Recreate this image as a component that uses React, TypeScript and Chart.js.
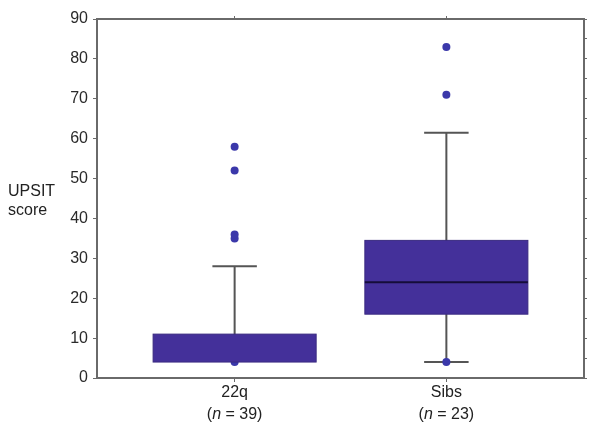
import React, { useEffect, useRef } from "react";
import { Chart, registerables } from "chart.js";

Chart.register(...registerables);

const categories = ["22q", "Sibs"];
const sampleSizes = ["39", "23"];
const whiskerLow = [4, 4];
const boxLow = [4, 16];
const medians = [4, 24];
const boxHigh = [11, 34.5];
const whiskerHigh = [28, 61.5];
const outliers = [
  [4, 35, 36, 52, 58],
  [4, 71, 83],
];
const yTicks = [0, 10, 20, 30, 40, 50, 60, 70, 80, 90];

const BOX_HALF = 0.385;
const CAP_HALF = 0.105;
const BOX_COLOR = "#44309a";
const DOT_COLOR = "#3b38aa";
const AXIS_COLOR = "#6a6a6a";
const FONT = "Liberation Sans, Arial, sans-serif";
const FS = 16;

export default function App() {
  const ref = useRef<HTMLCanvasElement | null>(null);

  useEffect(() => {
    const canvas = ref.current;
    if (!canvas) return;

    const points: { x: number; y: number }[] = [];
    outliers.forEach((arr, i) => arr.forEach((v) => points.push({ x: i, y: v })));

    const whiskerPlugin = {
      id: "whiskers",
      beforeDatasetsDraw(chart: any) {
        const { ctx, scales } = chart;
        const xs = scales.x;
        const ys = scales.y;
        ctx.save();
        ctx.strokeStyle = "#555555";
        ctx.lineWidth = 2;
        categories.forEach((_, i) => {
          const cx = xs.getPixelForValue(i);
          const lo = ys.getPixelForValue(whiskerLow[i]);
          const hi = ys.getPixelForValue(whiskerHigh[i]);
          const capL = xs.getPixelForValue(i - CAP_HALF);
          const capR = xs.getPixelForValue(i + CAP_HALF);
          ctx.beginPath();
          ctx.moveTo(cx, lo);
          ctx.lineTo(cx, hi);
          ctx.moveTo(capL, hi);
          ctx.lineTo(capR, hi);
          if (whiskerLow[i] < boxLow[i]) {
            ctx.moveTo(capL, lo);
            ctx.lineTo(capR, lo);
          }
          ctx.stroke();
        });
        ctx.restore();
      },
      afterDatasetsDraw(chart: any) {
        const { ctx, scales } = chart;
        const xs = scales.x;
        const ys = scales.y;
        ctx.save();
        categories.forEach((_, i) => {
          const l = xs.getPixelForValue(i - BOX_HALF);
          const r = xs.getPixelForValue(i + BOX_HALF);
          const t = ys.getPixelForValue(boxHigh[i]);
          const b = ys.getPixelForValue(boxLow[i]);
          ctx.fillStyle = BOX_COLOR;
          ctx.fillRect(l, t, r - l, b - t);
          ctx.strokeStyle = "#3a2a80";
          ctx.lineWidth = 1;
          ctx.strokeRect(l, t, r - l, b - t);
          if (medians[i] > boxLow[i] && medians[i] < boxHigh[i]) {
            const m = ys.getPixelForValue(medians[i]);
            ctx.strokeStyle = "#150d3a";
            ctx.lineWidth = 2;
            ctx.beginPath();
            ctx.moveTo(l, m);
            ctx.lineTo(r, m);
            ctx.stroke();
          }
        });
        ctx.restore();
      },
      afterDraw(chart: any) {
        const { ctx, scales } = chart;
        const xs = scales.x;
        ctx.save();
        ctx.fillStyle = "#222222";
        ctx.textBaseline = "middle";
        ctx.textAlign = "left";
        ctx.font = `${FS}px ${FONT}`;
        ctx.fillText("UPSIT", 8, 192);
        ctx.fillText("score", 8, 211);
        categories.forEach((c, i) => {
          const cx = xs.getPixelForValue(i);
          ctx.font = `${FS}px ${FONT}`;
          ctx.textAlign = "center";
          ctx.fillText(c, cx, 393);
          const p1 = "(";
          const p2 = "n";
          const p3 = " = " + sampleSizes[i] + ")";
          ctx.font = `${FS}px ${FONT}`;
          const w1 = ctx.measureText(p1).width;
          const w3 = ctx.measureText(p3).width;
          ctx.font = `italic ${FS}px ${FONT}`;
          const w2 = ctx.measureText(p2).width;
          const total = w1 + w2 + w3;
          let x = cx - total / 2;
          ctx.textAlign = "left";
          ctx.font = `${FS}px ${FONT}`;
          ctx.fillText(p1, x, 415);
          x += w1;
          ctx.font = `italic ${FS}px ${FONT}`;
          ctx.fillText(p2, x, 415);
          x += w2;
          ctx.font = `${FS}px ${FONT}`;
          ctx.fillText(p3, x, 415);
        });
        ctx.restore();
      },
    };

    const chart = new Chart(canvas, {
      type: "scatter",
      data: {
        datasets: [
          {
            data: points,
            backgroundColor: DOT_COLOR,
            borderColor: DOT_COLOR,
            pointRadius: 4,
            borderWidth: 0,
          },
        ],
      },
      options: {
        responsive: false,
        animation: false,
        layout: { padding: 0 },
        plugins: { legend: { display: false }, tooltip: { enabled: false } },
        scales: {
          x: {
            type: "linear",
            position: "bottom",
            min: -0.65,
            max: 1.65,
            afterBuildTicks: (s: any) => {
              s.ticks = [{ value: 0 }, { value: 1 }];
            },
            afterFit: (s: any) => {
              s.height = 435 - 378;
            },
            ticks: { display: false },
            border: { display: true, color: AXIS_COLOR, width: 2 },
            grid: {
              display: true,
              drawOnChartArea: false,
              drawTicks: true,
              tickLength: 4,
              color: AXIS_COLOR,
              lineWidth: 1,
            },
          },
          x2: {
            type: "linear",
            position: "top",
            min: -0.65,
            max: 1.65,
            afterBuildTicks: (s: any) => {
              s.ticks = [{ value: 0 }, { value: 1 }];
            },
            afterFit: (s: any) => {
              s.height = 19;
            },
            ticks: { display: false },
            border: { display: true, color: AXIS_COLOR, width: 2 },
            grid: {
              display: true,
              drawOnChartArea: false,
              drawTicks: true,
              tickLength: 3,
              color: AXIS_COLOR,
              lineWidth: 1,
            },
          },
          y: {
            type: "linear",
            position: "left",
            min: 0,
            max: 90,
            ticks: {
              stepSize: 5,
              padding: 5,
              color: "#2a2a2a",
              font: { family: FONT, size: FS },
              callback: (v: any) => (yTicks.includes(v) ? String(v) : ""),
            },
            afterFit: (s: any) => {
              s.width = 97;
            },
            border: { display: true, color: AXIS_COLOR, width: 2 },
            grid: {
              display: true,
              drawOnChartArea: false,
              drawTicks: true,
              tickLength: 4,
              color: AXIS_COLOR,
              lineWidth: 1,
            },
          },
          y2: {
            type: "linear",
            position: "right",
            min: 0,
            max: 90,
            ticks: { stepSize: 5, display: false },
            afterFit: (s: any) => {
              s.width = 600 - 584;
            },
            border: { display: true, color: AXIS_COLOR, width: 2 },
            grid: {
              display: true,
              drawOnChartArea: false,
              drawTicks: true,
              tickLength: 3,
              color: AXIS_COLOR,
              lineWidth: 1,
            },
          },
        },
      },
      plugins: [whiskerPlugin],
    } as any);

    return () => chart.destroy();
  }, []);

  return (
    <div style={{ position: "fixed", left: 0, top: 0, width: 600, height: 435, background: "#fff" }}>
      <canvas ref={ref} width={600} height={435} style={{ width: 600, height: 435 }} />
    </div>
  );
}
